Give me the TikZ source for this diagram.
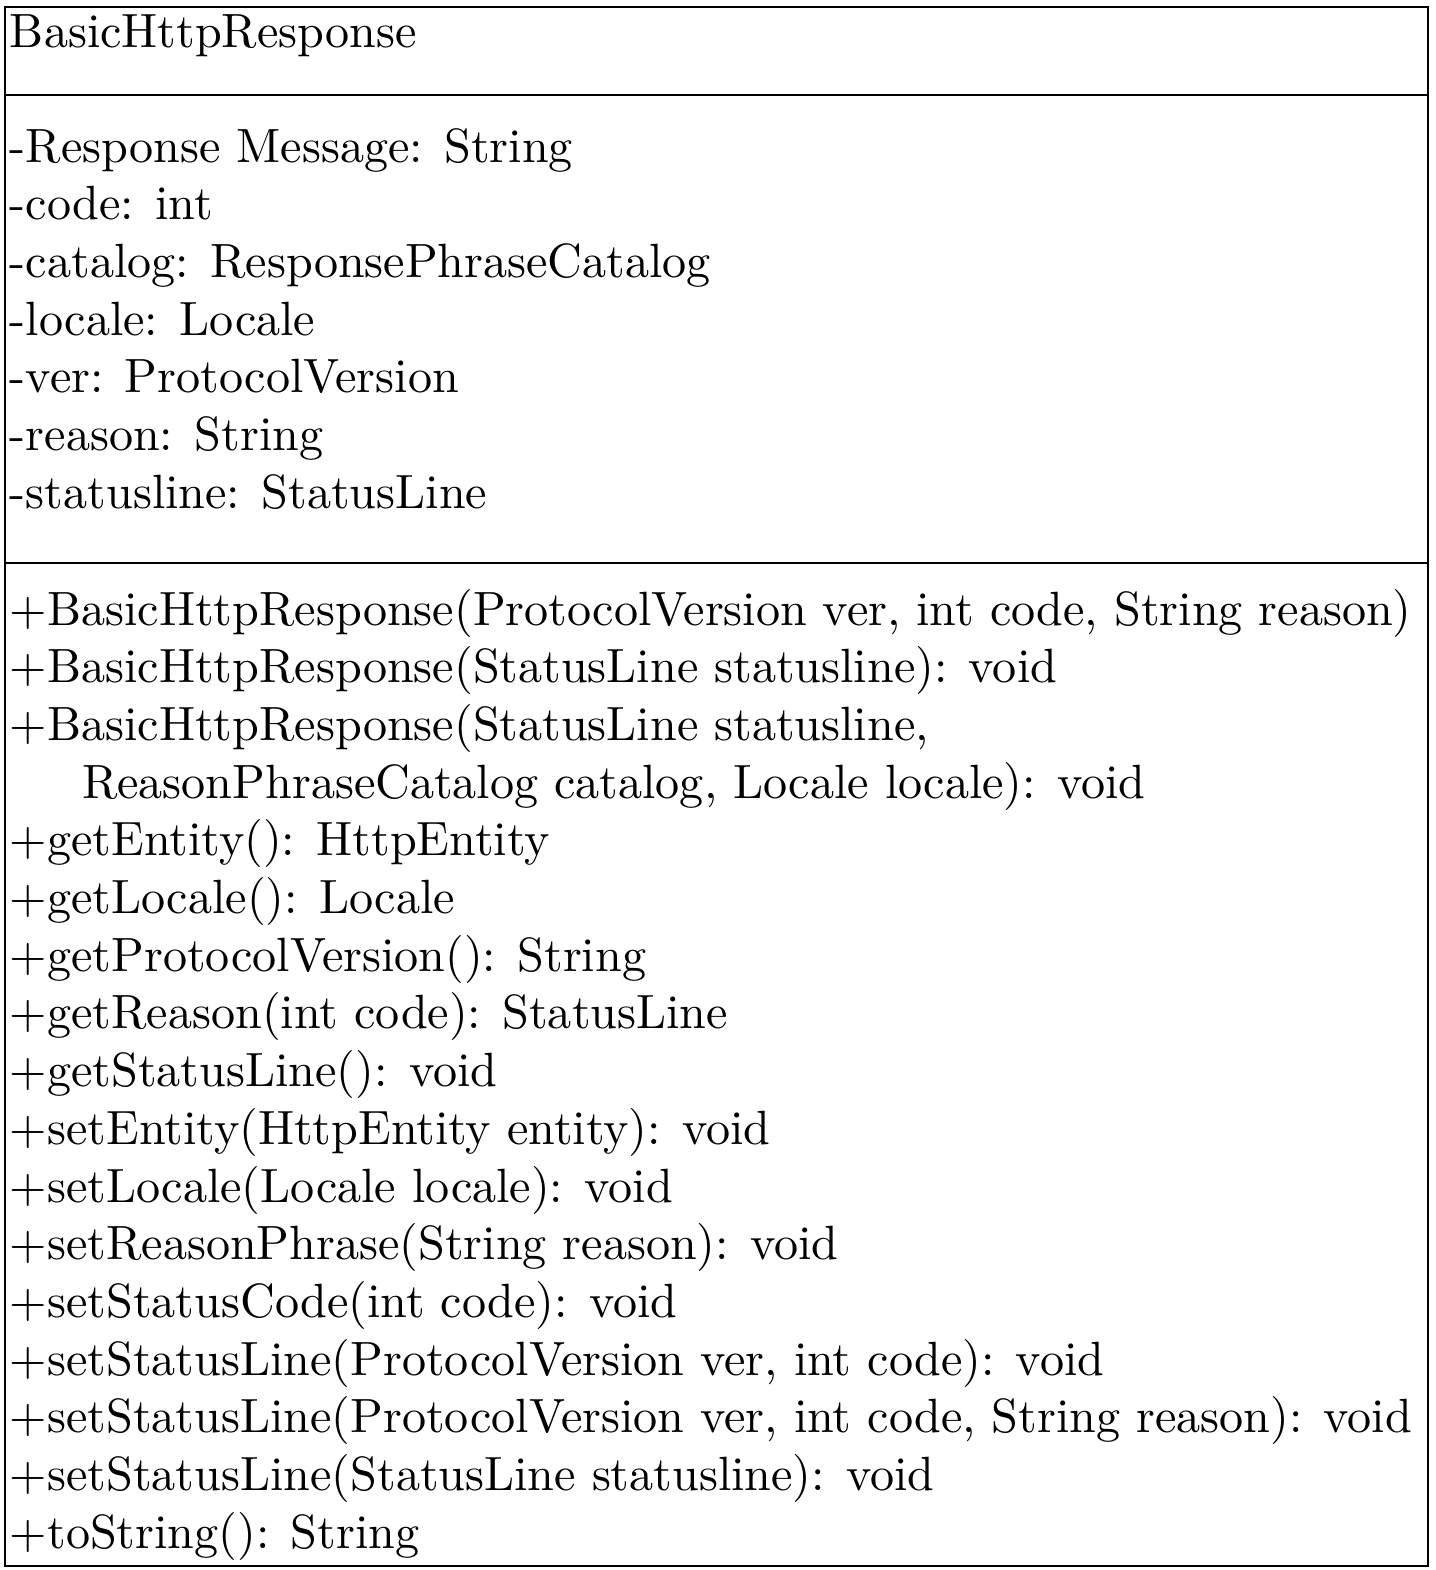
\documentclass[tikz,border=0pt]{standalone}
\begin{document}
\begin{tikzpicture}[x=0.2079pt, y=-0.2079pt,
    boxline/.style={semithick},
    member/.style={anchor=base west, inner sep=0pt}]
  \useasboundingbox (0,0) rectangle (1436,1570);

  \draw [boxline] (5,7) rectangle (1428,1566);
  \draw [boxline] (5,95) -- (1428,95);
  \draw [boxline] (5,563) -- (1428,563);

  \node [member] (title) at (9,47) {BasicHttpResponse};

  \foreach \i/\txt in {1/{-Response Message: String}, 2/{-code: int},
      3/{-catalog: ResponsePhraseCatalog}, 4/{-locale: Locale},
      5/{-ver: ProtocolVersion}, 6/{-reason: String}, 7/{-statusline: StatusLine}}
    \node [member] (attr\i) at (9,{162+(\i-1)*57.7}) {\txt};

  \foreach \i/\txt in {1/{+BasicHttpResponse(ProtocolVersion ver, int code, String reason)},
      2/{+BasicHttpResponse(StatusLine statusline): void},
      3/{+BasicHttpResponse(StatusLine statusline,},
      4/{\hspace*{1.5em}ReasonPhraseCatalog catalog, Locale locale): void},
      5/{+getEntity(): HttpEntity}, 6/{+getLocale(): Locale},
      7/{+getProtocolVersion(): String}, 8/{+getReason(int code): StatusLine},
      9/{+getStatusLine(): void}, 10/{+setEntity(HttpEntity entity): void},
      11/{+setLocale(Locale locale): void}, 12/{+setReasonPhrase(String reason): void},
      13/{+setStatusCode(int code): void},
      14/{+setStatusLine(ProtocolVersion ver, int code): void},
      15/{+setStatusLine(ProtocolVersion ver, int code, String reason): void},
      16/{+setStatusLine(StatusLine statusline): void},
      17/{+toString(): String}}
    \node [member] (meth\i) at (9,{625+(\i-1)*57.7}) {\txt};
\end{tikzpicture}
\end{document}
